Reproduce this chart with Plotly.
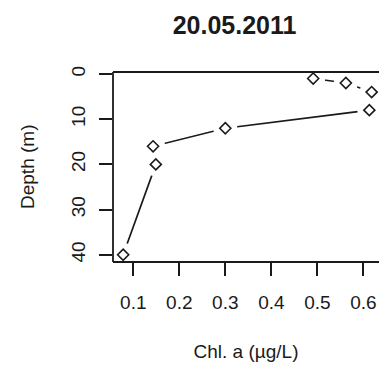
import plotly.graph_objects as go

# Chlorophyll a profile, 20.05.2011
depth_m = [1, 2, 4, 8, 12, 16, 20, 40]
chl_a = [0.491, 0.562, 0.618, 0.613, 0.300, 0.143, 0.149, 0.078]

x_ticks = [0.1, 0.2, 0.3, 0.4, 0.5, 0.6]
y_ticks = [0, 10, 20, 30, 40]

FONT = "Liberation Sans, Arial, sans-serif"
INK = "#1a1a1a"
PLOT_LEFT, PLOT_W = 113, 379 - 113

fig = go.Figure()

# connecting line
fig.add_trace(go.Scatter(
    x=chl_a, y=depth_m, mode="lines",
    line=dict(color=INK, width=1.7),
    hoverinfo="skip", showlegend=False,
))
# white discs open a gap in the line around each point (type "b" look)
fig.add_trace(go.Scatter(
    x=chl_a, y=depth_m, mode="markers",
    marker=dict(symbol="circle", size=24, color="white", line=dict(width=0)),
    hoverinfo="skip", showlegend=False,
))
# open diamond markers
fig.add_trace(go.Scatter(
    x=chl_a, y=depth_m, mode="markers",
    marker=dict(symbol="diamond-open", size=8.5, color=INK, line=dict(width=1.6, color=INK)),
    showlegend=False,
))

# frame: left, top, bottom (right edge falls outside the canvas)
for x0, y0, x1, y1 in [(0, 0, 0, 1), (0, 1, 1, 1), (0, 0, 1, 0)]:
    fig.add_shape(type="line", xref="paper", yref="paper",
                  x0=x0, y0=y0, x1=x1, y1=y1,
                  line=dict(color=INK, width=1.8), layer="above")

fig.update_xaxes(
    range=[0.0559, 0.634], tickvals=x_ticks, ticktext=[str(v) for v in x_ticks],
    ticks="outside", ticklen=13, tickwidth=1.8, tickcolor=INK,
    showgrid=False, zeroline=False, showline=False,
    tickfont=dict(family=FONT, size=19, color=INK),
    ticklabelstandoff=10,
    title=dict(text="Chl. a (µg/L)", font=dict(family=FONT, size=19, color=INK), standoff=32),
)
fig.update_yaxes(
    range=[41.6, -0.44], tickvals=y_ticks, ticktext=[str(v) for v in y_ticks],
    ticks="outside", ticklen=13, tickwidth=1.8, tickcolor=INK, tickangle=-90,
    showgrid=False, zeroline=False, showline=False,
    tickfont=dict(family=FONT, size=19, color=INK),
    ticklabelstandoff=6,
)

# y-axis title
fig.add_annotation(
    text="Depth (m)", textangle=-90, showarrow=False,
    xref="paper", yref="paper", x=(27 - PLOT_LEFT) / PLOT_W, y=0.5,
    xanchor="center", yanchor="middle",
    font=dict(family=FONT, size=19, color=INK),
)

fig.update_layout(
    width=379, height=369,
    margin=dict(l=PLOT_LEFT, r=0, t=72, b=107),
    plot_bgcolor="white", paper_bgcolor="white",
    title=dict(text="<b>20.05.2011</b>", x=234.5 / 379, xanchor="center",
               y=1 - 25 / 369, yanchor="middle",
               font=dict(family=FONT, size=25, color=INK)),
)

fig.write_html("out.html")
